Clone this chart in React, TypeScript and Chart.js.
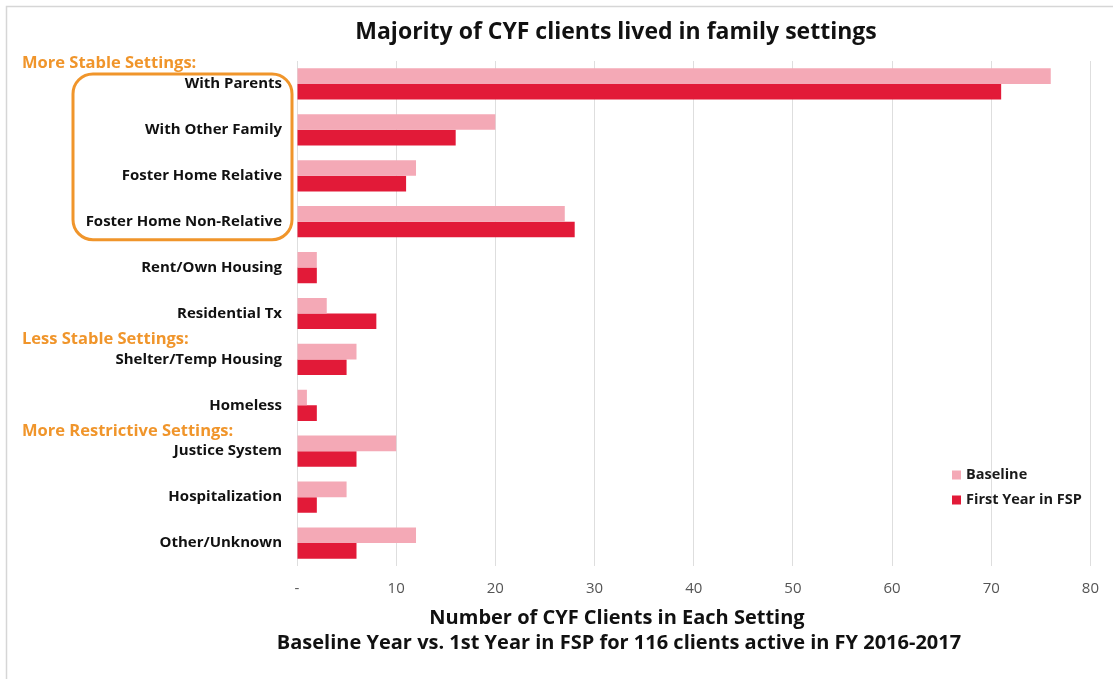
import React, { useEffect, useRef } from "react";
import { Chart, registerables } from "chart.js";

Chart.register(...registerables);

const categories = [
  "With Parents",
  "With Other Family",
  "Foster Home Relative",
  "Foster Home Non-Relative",
  "Rent/Own Housing",
  "Residential Tx",
  "Shelter/Temp Housing",
  "Homeless",
  "Justice System",
  "Hospitalization",
  "Other/Unknown",
];
const baselineValues = [76, 20, 12, 27, 2, 3, 6, 1, 10, 5, 12];
const firstYearValues = [71, 16, 11, 28, 2, 8, 5, 2, 6, 2, 6];
const seriesNames = ["Baseline", "First Year in FSP"];
const xTickValues = [0, 10, 20, 30, 40, 50, 60, 70, 80];
const xTickLabels = ["-", "10", "20", "30", "40", "50", "60", "70", "80"];
const chartTitle = "Majority of CYF clients lived in family settings";
const axisTitle = "Number of CYF Clients in Each Setting";
const axisSubtitle = "Baseline Year vs. 1st Year in FSP for 116 clients active in FY 2016-2017";
const groupLabels = ["More Stable Settings:", "Less Stable Settings:", "More Restrictive Settings:"];

const PINK = "#F4A9B6";
const RED = "#E21A38";
const ORANGE = "#F0952B";
const NARROW = "'Open Sans', 'Noto Sans', sans-serif";
const SANS = "'Open Sans', 'Noto Sans', sans-serif";

const overlayPlugin = {
  id: "overlay",
  afterDraw(chart: any) {
    const ctx = chart.ctx as CanvasRenderingContext2D;
    const yScale = chart.scales.y;
    ctx.save();
    // frame
    ctx.strokeStyle = "#d6d6d6";
    ctx.lineWidth = 1.5;
    ctx.beginPath();
    ctx.moveTo(6.5, 679);
    ctx.lineTo(6.5, 6.5);
    ctx.lineTo(1113, 6.5);
    ctx.stroke();

    // title
    ctx.fillStyle = "#111";
    ctx.textAlign = "center";
    ctx.textBaseline = "middle";
    ctx.font = `bold 23px ${NARROW}`;
    ctx.fillText(chartTitle, 616, 32);

    // axis titles
    ctx.font = `bold 20px ${NARROW}`;
    ctx.fillText(axisTitle, 617, 618);
    ctx.fillText(axisSubtitle, 619, 643);

    // group labels
    ctx.fillStyle = ORANGE;
    ctx.textAlign = "left";
    ctx.font = `bold 16.5px ${SANS}`;
    const y0 = yScale.getPixelForValue(0);
    const y6 = yScale.getPixelForValue(6);
    const y8 = yScale.getPixelForValue(8);
    ctx.fillText(groupLabels[0], 22, y0 - 21);
    ctx.fillText(groupLabels[1], 22, y6 - 20);
    ctx.fillText(groupLabels[2], 22, y8 - 20);

    // rounded box around family settings
    const y3 = yScale.getPixelForValue(3);
    const bx = 73, by = y0 - 10, bw = 219, bh = y3 + 18 - by, r = 20;
    ctx.strokeStyle = ORANGE;
    ctx.lineWidth = 3;
    ctx.beginPath();
    ctx.moveTo(bx + r, by);
    ctx.lineTo(bx + bw - r, by);
    ctx.arcTo(bx + bw, by, bx + bw, by + r, r);
    ctx.lineTo(bx + bw, by + bh - r);
    ctx.arcTo(bx + bw, by + bh, bx + bw - r, by + bh, r);
    ctx.lineTo(bx + r, by + bh);
    ctx.arcTo(bx, by + bh, bx, by + bh - r, r);
    ctx.lineTo(bx, by + r);
    ctx.arcTo(bx, by, bx + r, by, r);
    ctx.closePath();
    ctx.stroke();

    // legend
    const colors = [PINK, RED];
    ctx.font = `bold 14.5px ${SANS}`;
    ctx.textBaseline = "middle";
    seriesNames.forEach((name, i) => {
      const ly = 475 + i * 25;
      ctx.fillStyle = colors[i];
      ctx.fillRect(952, ly - 4.5, 9, 9);
      ctx.fillStyle = "#1a1a1a";
      ctx.fillText(name, 966, ly);
    });
    ctx.restore();
  },
};

export default function App() {
  const ref = useRef<HTMLCanvasElement | null>(null);
  useEffect(() => {
    document.body.style.margin = "0";
    const canvas = ref.current;
    if (!canvas) return;
    const chart = new Chart(canvas, {
      type: "bar",
      data: {
        labels: categories,
        datasets: [
          {
            label: seriesNames[0],
            data: baselineValues,
            backgroundColor: PINK,
            categoryPercentage: 0.68,
            barPercentage: 1,
          },
          {
            label: seriesNames[1],
            data: firstYearValues,
            backgroundColor: RED,
            categoryPercentage: 0.68,
            barPercentage: 1,
          },
        ],
      },
      options: {
        indexAxis: "y",
        responsive: false,
        animation: false,
        layout: { padding: { top: 61, right: 19, left: 0, bottom: 0 } },
        plugins: {
          legend: { display: false },
          title: { display: false },
          tooltip: { enabled: false },
        },
        scales: {
          x: {
            min: 0,
            max: 80,
            afterBuildTicks: (s: any) => {
              s.ticks = xTickValues.map((v) => ({ value: v }));
            },
            afterFit: (s: any) => {
              s.height = 113;
            },
            grid: { color: "#dedede", drawTicks: false, lineWidth: 1 },
            border: { display: false },
            ticks: {
              padding: 14,
              color: "#555",
              font: { family: NARROW, size: 15 },
              callback: (v: any) => {
                const i = xTickValues.indexOf(Number(v));
                return i >= 0 ? xTickLabels[i] : "";
              },
            },
          },
          y: {
            afterFit: (s: any) => {
              s.width = 297;
            },
            grid: { display: false, drawTicks: false },
            border: { display: false },
            ticks: {
              padding: 15,
              color: "#111",
              font: { family: SANS, size: 15, weight: "bold" },
            },
          },
        },
      },
      plugins: [overlayPlugin],
    } as any);
    return () => chart.destroy();
  }, []);
  return (
    <div style={{ width: 1113, height: 679 }}>
      <canvas ref={ref} width={1113} height={679} style={{ display: "block" }} />
    </div>
  );
}
